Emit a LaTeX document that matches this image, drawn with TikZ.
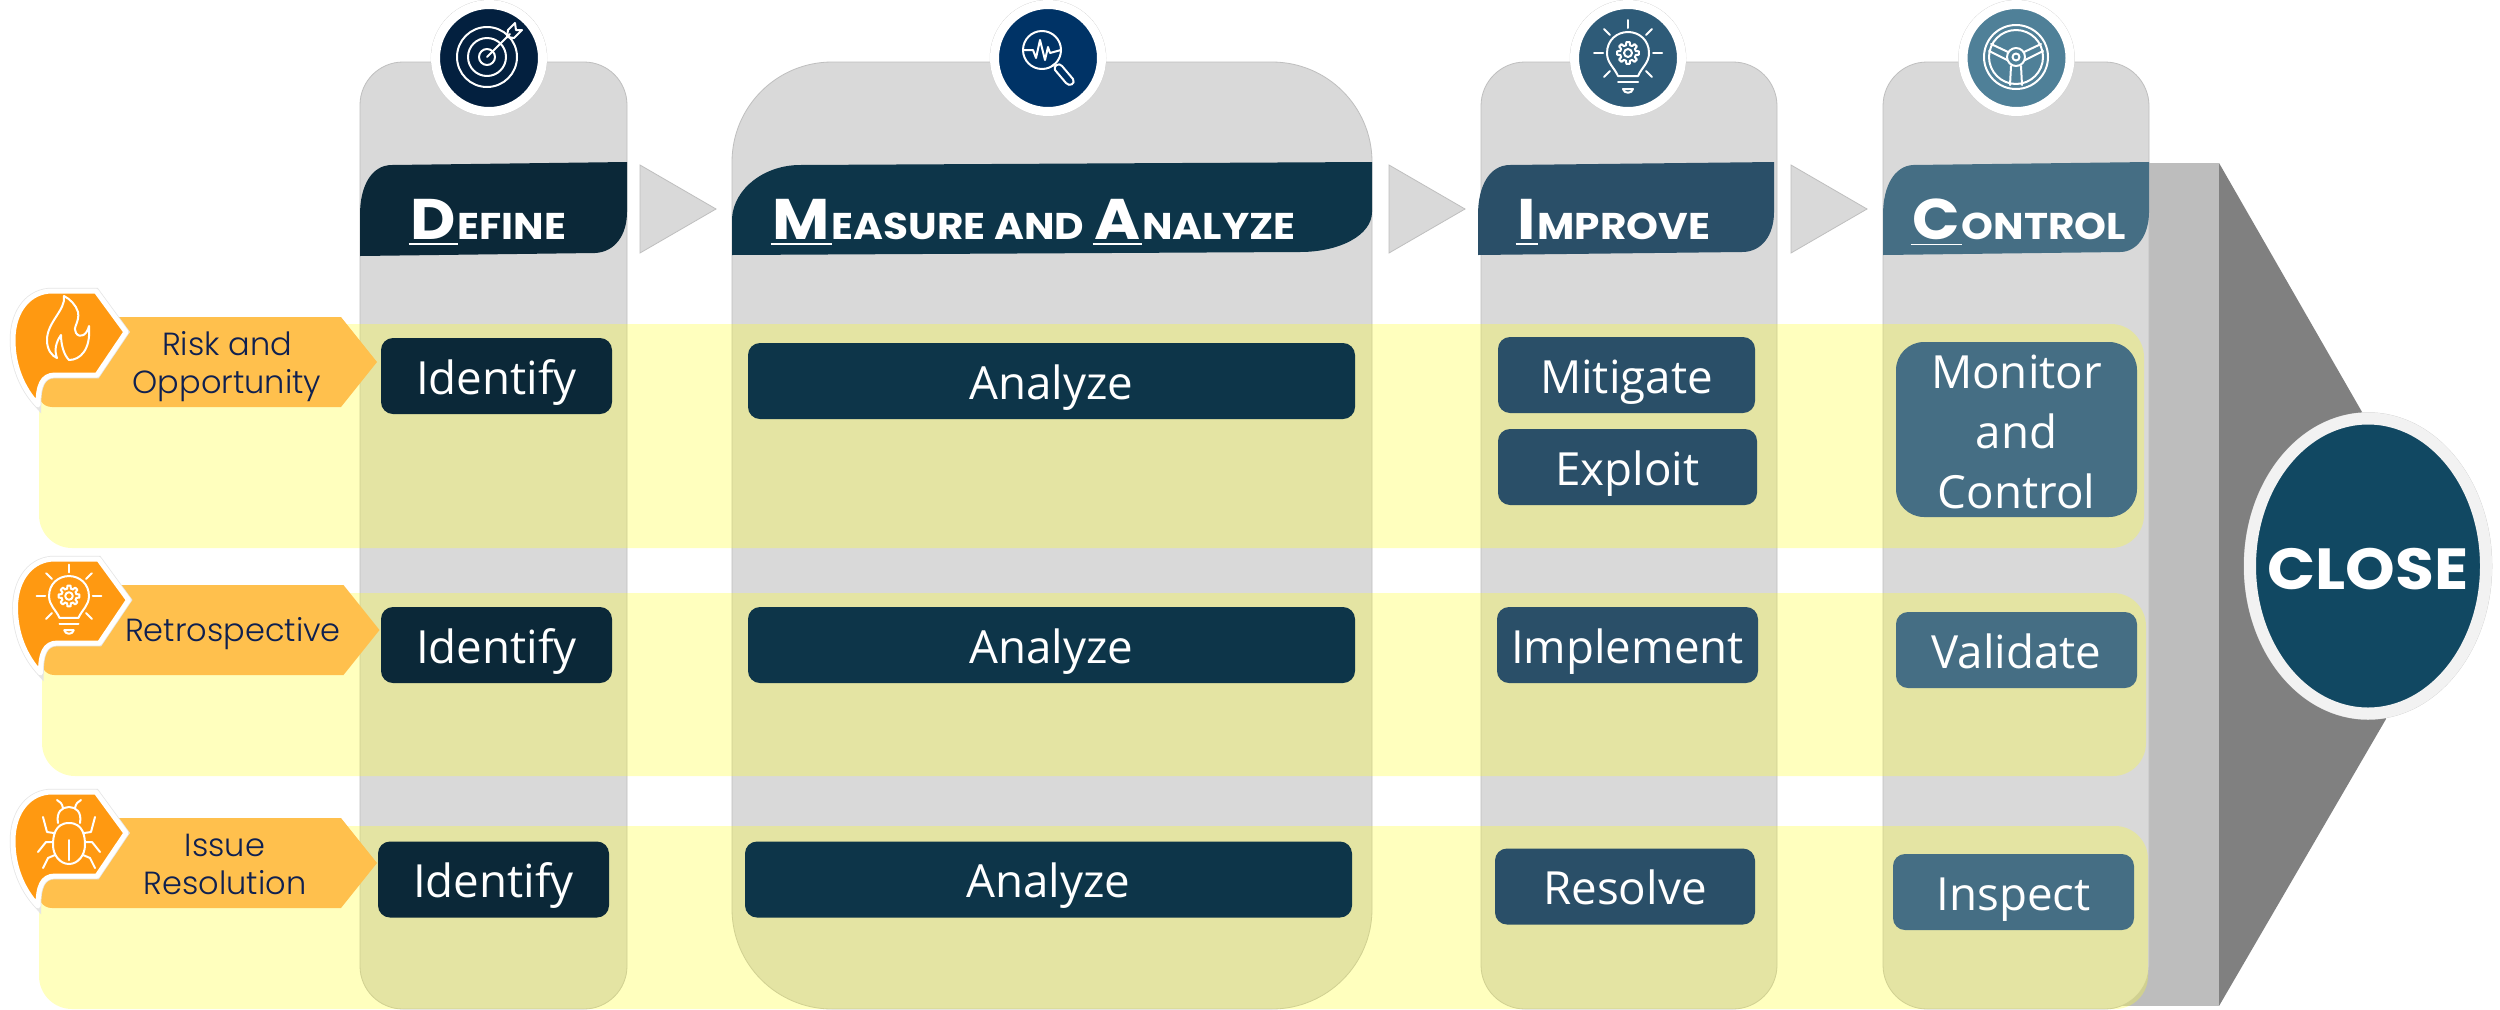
\documentclass[tikz,border=0pt]{standalone}
\usepackage{fontspec}
\setmainfont{Open Sans}
\newfontfamily\headfont[FakeStretch=1.09]{Poppins}
\newfontfamily\tagfont{Poppins Light}
\usetikzlibrary{positioning, shapes.geometric}
\definecolor{defineblue}{HTML}{0B2838}
\definecolor{measureblue}{HTML}{0D3549}
\definecolor{improveblue}{HTML}{2A4F68}
\definecolor{controlblue}{HTML}{456E84}
\definecolor{closeblue}{HTML}{114862}
\definecolor{columngray}{HTML}{D9D9D9}
\definecolor{bargray}{HTML}{BDBDBD}
\definecolor{wedgegray}{HTML}{808080}
\definecolor{ringgray}{HTML}{F2F2F2}
\definecolor{bandyellow}{HTML}{FFFF22}
\definecolor{chiporange}{HTML}{FF9911}
\definecolor{tagorange}{HTML}{FFC04D}
\definecolor{labelnavy}{HTML}{0F2050}
\definecolor{definedisccolor}{HTML}{03203F}
\definecolor{measuredisccolor}{HTML}{003366}
\definecolor{improvedisccolor}{HTML}{2E5B78}
\definecolor{controldisccolor}{HTML}{4F8098}
\newcommand{\headcap}[1]{\underline{\fontsize{16.3}{18}\selectfont\kern0.5pt #1\kern0.5pt}}

\tikzset{
    icon/.style={draw=white, line width=0.2mm, line join=round, line cap=round},
    pics/bulb/.style={code={
        \draw[icon] (-10,23) .. controls (-14,14) and (-21,10) .. (-21,0) .. controls (-21,-13) and (-11,-21) .. (0,-21)
            .. controls (11,-21) and (21,-13) .. (21,0) .. controls (21,10) and (14,14) .. (10,23) -- cycle;
        \draw[icon] (-10,29) -- (10,29);
        \draw[icon] (-5,36) -- (5,36) .. controls (4,41) and (-4,41) .. (-5,36) -- cycle;
        \foreach \a in {0,45,...,315} {
            \draw[icon] (\a-14:8) -- (\a-9:11) -- (\a+9:11) -- (\a+14:8) -- (\a+31:8);
        }
        \draw[icon] (0,0) circle (4);
        \draw[icon] (0,-33) -- (0,-25);
        \draw[icon] (-34,0) -- (-25,0);
        \draw[icon] (25,0) -- (34,0);
        \draw[icon] (-24,-24) -- (-18,-18);
        \draw[icon] (24,-24) -- (18,-18);
        \draw[icon] (-24,24) -- (-18,18);
        \draw[icon] (24,24) -- (18,18);
    }},
    pics/chip/.style={code={
        \fill[tagorange] (100,317) -- (341,317) -- (377,362) -- (341,407) -- (52,407) .. controls (42,407) and (38,398) .. (38,390) -- (38,380) -- cycle;
        \draw[chipshape] (52,291) -- (96,291) -- (126,332) -- (97,375) -- (55,375)
            .. controls (42,375) and (38,386) .. (38,405) .. controls (22,388) and (13,365) .. (13,340)
            .. controls (13,310) and (30,291) .. (52,291) -- cycle;
    }}
}

\begin{document}
\begin{tikzpicture}[
    x=0.1mm, y=-0.1mm,
    column/.style={draw=black!25, line width=0.08mm, fill=columngray, minimum height=94.7mm, outer sep=0pt},
    band/.style={fill=bandyellow, fill opacity=0.29, rounded corners=3.3mm, outer sep=0pt},
    chevron/.style={draw=black!25, line width=0.08mm, fill=columngray},
    chipshape/.style={fill=chiporange, draw=white, line width=0.5mm, line join=round, preaction={draw=black!10, line width=0.65mm}},
    box/.style={rounded corners=1.2mm, text=white, font=\fontsize{13}{17}\selectfont, align=center, minimum height=7.6mm, inner sep=0pt, outer sep=0pt},
    stepbox/.style={box, text height=3.6mm, text depth=0mm},
    headtext/.style={anchor=base west, text=white, inner sep=0pt, font=\headfont\bfseries\fontsize{10.6}{12}\selectfont},
    steptag/.style={text=labelnavy, font=\tagfont\fontsize{9.1}{10.8}\selectfont, align=center, inner sep=0pt},
    stagedisc/.style={circle, minimum size=10.7mm, draw=white, line width=0.9mm, inner sep=0pt, preaction={draw=black!20, line width=0.95mm}},
    closedisc/.style={ellipse, minimum width=23.6mm, minimum height=29.5mm, inner sep=0pt, fill=closeblue, draw=ringgray, line width=1.2mm, preaction={draw=black!20, line width=1.25mm}},
    closetext/.style={text=white, inner sep=0pt, text height=4.6mm, text depth=0mm, font=\headfont\bfseries\fontsize{16.5}{18}\selectfont}
]
    \useasboundingbox[fill=white] (0,0) rectangle (2500,1009);

    % grey bar and wedge behind the columns
    \fill[wedgegray] (2219,163) -- (2362,412) -- (2386,719) -- (2219,1006) -- cycle;
    \fill[bargray] (2100,163) rectangle (2219,1006);

    \node[column, rounded corners=4.3mm, minimum width=26.7mm] (definecol) at (493.5,535.5) {};
    \node[column, rounded corners=10mm, minimum width=64mm] (measurecol) at (1052,535.5) {};
    \node[column, rounded corners=4.4mm, minimum width=29.6mm] (improvecol) at (1629,535.5) {};
    \node[column, rounded corners=4.4mm, minimum width=26.6mm] (controlcol) at (2016,535.5) {};

    \foreach \x in {640,1389,1791} {
        \draw[chevron] (\x,165) -- ++(0,88) -- ++(76,-44) -- cycle;
    }

    % banners
    \fill[defineblue] (360,256) -- (360,215) .. controls (360,185) and (372,165) .. (392,165) -- (627,162) -- (627,212) .. controls (627,235) and (615,252) .. (595,253) -- cycle;
    \fill[measureblue] (732,255) -- (732,218) .. controls (734,188) and (765,165) .. (800,165) -- (1372,162) -- (1372,212) .. controls (1372,235) and (1340,252) .. (1300,252) -- cycle;
    \fill[improveblue] (1478,255) -- (1478,215) .. controls (1478,185) and (1490,165) .. (1510,165) -- (1774,162) -- (1774,212) .. controls (1774,235) and (1762,252) .. (1742,252) -- cycle;
    \fill[controlblue] (1883,255) -- (1883,215) .. controls (1883,185) and (1895,166) .. (1913,165) -- (2149,162) -- (2149,212) .. controls (2149,235) and (2137,252) .. (2120,252) -- cycle;

    \node[headtext] (definehead) at (408,239) {\headcap{D}EFINE};
    \node[headtext] (measurehead) at (770,239) {\headcap{M}EASURE AND \headcap{A}NALYZE};
    \node[headtext] (improvehead) at (1515,239) {\headcap{I}MPROVE};
    \node[headtext] (controlhead) at (1910,239) {\headcap{C}ONTROL};

    % yellow bands
    \node[band, minimum width=210.5mm, minimum height=22.4mm] (riskband) at (1091.5,436) {};
    \node[band, minimum width=210.4mm, minimum height=18.3mm] (retroband) at (1094,684.5) {};
    \node[band, minimum width=210.9mm, minimum height=18.3mm] (issueband) at (1093.5,917.5) {};

    % row one
    \node[stepbox, fill=defineblue, minimum width=23.1mm] (identifyrisk) at (496.5,376) {Identify};
    \node[stepbox, fill=measureblue, minimum width=60.7mm, right=13.6mm of identifyrisk, yshift=-0.5mm] (analyzerisk) {Analyze};
    \node[stepbox, fill=improveblue, minimum width=25.7mm] (mitigate) at (1626.5,375) {Mitigate};
    \node[stepbox, fill=improveblue, minimum width=25.9mm, below=1.6mm of mitigate, xshift=0.1mm] (exploit) {Exploit};
    \node[box, fill=controlblue, minimum width=24.1mm, minimum height=17.5mm, rounded corners=2.8mm] (monitor) at (2016.5,429.5) {\rule{0pt}{3.8mm}Monitor\\and\\Control};

    % row two
    \node[stepbox, fill=defineblue, minimum width=23.1mm] (identifyretro) at (496.5,645) {Identify};
    \node[stepbox, fill=measureblue, minimum width=60.7mm, right=13.6mm of identifyretro] (analyzeretro) {Analyze};
    \node[stepbox, fill=improveblue, minimum width=26.1mm, right=14.2mm of analyzeretro] (implement) {Implement};
    \node[stepbox, fill=controlblue, minimum width=24.1mm, right=13.8mm of implement, yshift=-0.5mm] (validate) {Validate};

    % row three
    \node[stepbox, fill=defineblue, minimum width=23.1mm] (identifyissue) at (493.5,879.5) {Identify};
    \node[stepbox, fill=measureblue, minimum width=60.7mm, right=13.6mm of identifyissue] (analyzeissue) {Analyze};
    \node[stepbox, fill=improveblue, minimum width=26mm, right=14.3mm of analyzeissue, yshift=-0.7mm] (resolve) {Resolve};
    \node[stepbox, fill=controlblue, minimum width=24.1mm, right=13.8mm of resolve, yshift=-0.55mm] (inspect) {Inspect};

    % left chips
    \pic at (0,0) {chip};
    \pic at (2.5,268) {chip};
    \pic at (0,501) {chip};
    \node[steptag] (risktag) at (227,367) {Risk and\\Opportunity};
    \node[steptag] (retrotag) at (233,634) {Retrospective};
    \node[steptag] (issuetag) at (225,864) {Issue\\Resolution};

    % flame
    \draw[icon] (64,296) .. controls (66,310) and (47,322) .. (47,340) .. controls (47,350) and (52,356) .. (57,358)
        .. controls (54,350) and (56,342) .. (61,335) .. controls (61,345) and (64,355) .. (69,360)
        .. controls (80,360) and (91,350) .. (89,326) .. controls (87,335) and (80,339) .. (76,333)
        .. controls (72,328) and (80,322) .. (78,312) .. controls (76,305) and (70,299) .. (64,296) -- cycle;
    % bulb in row two
    \pic[scale=0.95] at (69,596) {bulb};
    % bug
    \draw[icon] (69,823) .. controls (84,823) and (85,838) .. (85,845) .. controls (85,855) and (78,864) .. (69,864)
        .. controls (60,864) and (53,855) .. (53,845) .. controls (53,838) and (54,823) .. (69,823) -- cycle;
    \draw[icon] (58,823) .. controls (56,812) and (62,807) .. (69,807) .. controls (76,807) and (82,812) .. (80,823);
    \draw[icon] (69,840) -- (69,860);
    \draw[icon] (63,808) .. controls (62,803) and (60,802) .. (57,800);
    \draw[icon] (75,808) .. controls (76,803) and (78,802) .. (81,800);
    \draw[icon] (54,833) -- (47,832) -- (43,817);
    \draw[icon] (84,833) -- (91,832) -- (95,817);
    \draw[icon] (53,842) -- (46,842) -- (38,852);
    \draw[icon] (85,842) -- (92,842) -- (100,852);
    \draw[icon] (55,855) -- (48,858) -- (43,868);
    \draw[icon] (83,855) -- (90,858) -- (95,868);

    % stage discs on top
    \node[stagedisc, fill=definedisccolor] (definedisc) at (489,58) {};
    \node[stagedisc, fill=measuredisccolor] (measuredisc) at (1048,58) {};
    \node[stagedisc, fill=improvedisccolor] (improvedisc) at (1628,58) {};
    \node[stagedisc, fill=controldisccolor] (controldisc) at (2016.5,58) {};

    % target
    \draw[icon] (487,57) circle (30);
    \draw[icon] (487,57) circle (19);
    \draw[icon] (487,57) circle (8);
    \draw[icon] (487,57) -- (510,34);
    \draw[icon] (508,30) -- (515,23) -- (516,30) -- (522,30) -- (514,38) -- (507,37) -- cycle;
    % lens
    \draw[icon] (1042,50) circle (19);
    \draw[icon] (1023,50) -- (1033,50) -- (1036,58) -- (1040,40) -- (1045,60) -- (1048,47) -- (1050,53) -- (1061,50);
    \draw[icon] (1052,66) -- (1055,64);
    \draw[icon] (1055,70) .. controls (1053,66) and (1059,62) .. (1062,66) -- (1073,79) .. controls (1076,84) and (1069,87) .. (1066,83) -- cycle;
    % bulb on top
    \pic at (1628,53) {bulb};
    % wheel
    \draw[icon] (2016,57) circle (32);
    \draw[icon] (2016,57) circle (27);
    \draw[icon] (2016,57) circle (9);
    \draw[icon] (2016,57) circle (3.5);
    \draw[icon] (1991,44) -- (2008,52);
    \draw[icon] (1989,51) -- (2007,60);
    \draw[icon] (2041,44) -- (2024,52);
    \draw[icon] (2043,51) -- (2025,60);
    \draw[icon] (2011,66) -- (2010,85);
    \draw[icon] (2021,66) -- (2022,85);

    % close
    \node[closedisc] (closeoval) at (2368,566) {};
    \node[closetext] (closelabel) at (closeoval) {CLOSE};
\end{tikzpicture}
\end{document}
